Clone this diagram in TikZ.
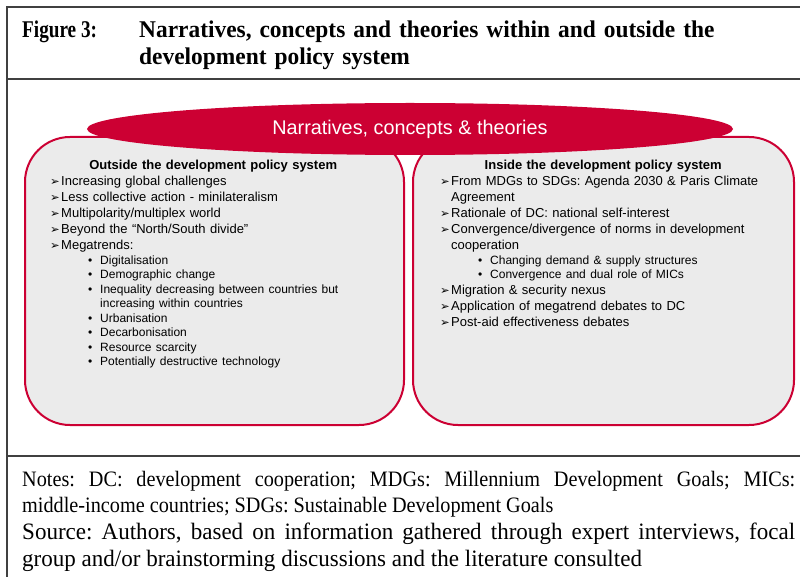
\documentclass[tikz,border=0pt]{standalone}
\usepackage{fontspec}
\usetikzlibrary{shapes.geometric}
\setmainfont{Liberation Serif}
\newfontfamily\boxsans{Liberation Sans}
\newfontfamily\arrowsans{DejaVu Sans}
\newfontfamily\fignofont[FakeStretch=0.8]{Liberation Serif}
\newfontfamily\titlefont[FakeStretch=0.975]{Liberation Serif}
\newfontfamily\notesfont[FakeStretch=0.92]{Liberation Serif}
\newfontfamily\sourcefont[FakeStretch=0.98]{Liberation Serif}
\definecolor{crimson}{RGB}{204,0,51}
\definecolor{boxgray}{RGB}{235,235,235}
\frenchspacing

% list lines inside the two boxes
\newcommand{\arrowitem}[1]{\par\fontsize{13}{16}\selectfont\hangindent=11pt\hangafter=1\noindent
  \makebox[11pt][l]{\arrowsans\fontsize{11.5}{12}\selectfont\char"27A2}#1\par}
\newcommand{\dotitem}[1]{\par\fontsize{12}{14.5}\selectfont\hangindent=50pt\hangafter=0\noindent
  \hskip-12pt\makebox[12pt][l]{\textbullet}#1\par}

\begin{document}
\begin{tikzpicture}[x=1pt,y=-1pt,
    frame/.style ={draw=black!75, line width=1.5pt},
    sysbox/.style ={draw=crimson, line width=2pt, fill=boxgray, rounded corners=45pt},
    theme/.style ={ellipse, fill=crimson, text=white, inner sep=0pt,
      font=\boxsans\fontsize{19.8}{22}\selectfont},
    listtext/.style ={anchor=north west, inner sep=0pt, text width=326pt, align=left,
      font=\boxsans\fontsize{13}{16}\selectfont}]
   \useasboundingbox (0,0) rectangle (800,577);

   % frame of the figure
   \draw[frame] (7,577) -- (7,7) -- (800,7);
   \draw[frame] (7,79) -- (800,79);
   \draw[frame] (7,456) -- (800,456);

   % title
   \node[anchor=north west, inner sep=0pt, font=\fignofont\bfseries\fontsize{24}{27}\selectfont]
     (figno) at (22,21) {Figure 3:};
   \node[anchor=north west, inner sep=0pt, text width=650pt, align=left,
     font=\titlefont\bfseries\fontsize{24}{27}\selectfont] (title) at (139,21)
     {Narratives, concepts and theories within and outside the\\
      development policy system};

   % the two systems
   \node[sysbox, minimum width=379pt, minimum height=288pt] (outbox) at (214.5,281) {};
   \node[sysbox, minimum width=381pt, minimum height=288pt] (inbox) at (603.5,281) {};
   \node[theme, minimum width=646pt, minimum height=52pt] (theories) at (410,129)
     {Narratives, concepts \& theories};

   \node[listtext] (outlist) at (50,160) {%
     {\centering\bfseries Outside the development policy system\par}
     \arrowitem{Increasing global challenges}
     \arrowitem{Less collective action - minilateralism}
     \arrowitem{Multipolarity/multiplex world}
     \arrowitem{Beyond the “North/South divide”}
     \arrowitem{Megatrends:}
     \dotitem{Digitalisation}
     \dotitem{Demographic change}
     \dotitem{Inequality decreasing between countries but\newline increasing within countries}
     \dotitem{Urbanisation}
     \dotitem{Decarbonisation}
     \dotitem{Resource scarcity}
     \dotitem{Potentially destructive technology}};

   \node[listtext] (inlist) at (440,160) {%
     {\centering\bfseries Inside the development policy system\par}
     \arrowitem{From MDGs to SDGs: Agenda 2030 \& Paris Climate\newline Agreement}
     \arrowitem{Rationale of DC: national self-interest}
     \arrowitem{Convergence/divergence of norms in development\newline cooperation}
     \dotitem{Changing demand \& supply structures}
     \dotitem{Convergence and dual role of MICs}
     \arrowitem{Migration \& security nexus}
     \arrowitem{Application of megatrend debates to DC}
     \arrowitem{Post-aid effectiveness debates}};

   % notes and source
   \node[anchor=north west, inner sep=0pt, text width=773pt, align=justify] (notes) at (22,471.5) {%
     {\notesfont\fontsize{22}{26}\selectfont Notes: DC: development cooperation; MDGs: Millennium Development Goals; MICs:\linebreak
      middle-income countries; SDGs: Sustainable Development Goals\par}
     {\sourcefont\fontsize{23.5}{27}\selectfont Source: Authors, based on information gathered through expert interviews, focal\linebreak
      group and/or brainstorming discussions and the literature consulted\par}};
 \end{tikzpicture}
\end{document}
